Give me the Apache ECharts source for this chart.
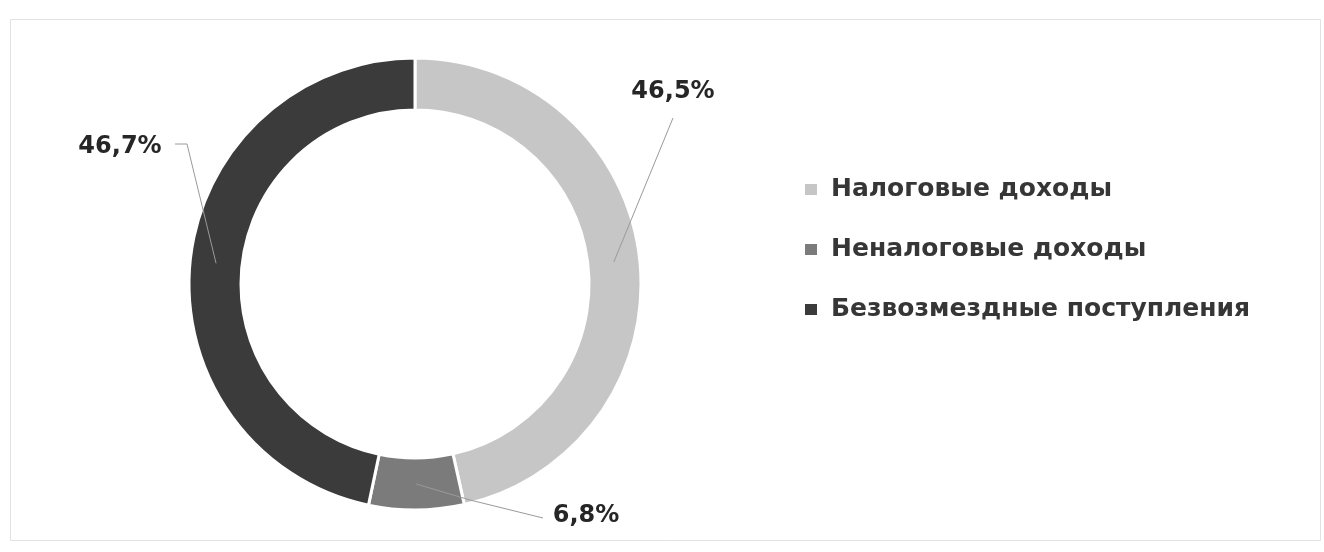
<!DOCTYPE html>
<html>
<head>
<meta charset="utf-8">
<script src="https://cdn.jsdelivr.net/npm/echarts@6/dist/echarts.min.js"></script>
<style>
html,body{margin:0;padding:0;background:#fff;}
#chart{width:1324px;height:552px;}
</style>
</head>
<body>
<div id="chart"></div>
<script>
const categories = ['Налоговые доходы', 'Неналоговые доходы', 'Безвозмездные поступления'];
const values = [46.5, 6.8, 46.7];
const labels = ['46,5%', '6,8%', '46,7%'];
const colors = ['#c6c6c6', '#7b7b7b', '#3b3b3b'];

// label placement (text centre) and elbow points of leader lines
const labelPos = [[673, 92], [586, 516], [120, 147]];
const lineEnd = [[[673, 118], [673, 118]], [[470, 500], [543, 518]], [[187, 144], [175, 144]]];

const CX = 415, CY = 284, R0 = 174, R1 = 226;

const chart = echarts.init(document.getElementById('chart'), null, {renderer: 'canvas'});
const total = values.reduce((a, b) => a + b, 0);
const midAngles = [];
let acc = 0;
values.forEach(v => { midAngles.push((acc + v / 2) / total * 2 * Math.PI); acc += v; });

const labelFont = {fontFamily: 'DejaVu Sans', fontWeight: 'bold', fontSize: 24, color: '#262626'};

chart.setOption({
  backgroundColor: '#ffffff',
  animation: false,
  graphic: [{
    type: 'rect', shape: {x: 10.5, y: 19.5, width: 1310, height: 521},
    style: {fill: 'none', stroke: '#e2e2e2', lineWidth: 1}, silent: true, z: -1
  }],
  legend: {
    orient: 'vertical',
    left: 798, top: 172,
    itemWidth: 14, itemHeight: 13, itemGap: 35,
    icon: 'rect',
    textStyle: {fontFamily: 'DejaVu Sans', fontWeight: 'bold', fontSize: 25, color: '#363636', padding: [0, 0, 0, 8]},
    data: categories
  },
  series: [{
    type: 'pie',
    center: [CX, CY],
    radius: [R0, R1],
    startAngle: 90,
    clockwise: true,
    z: 2,
    itemStyle: {borderColor: '#ffffff', borderWidth: 3},
    label: {show: false},
    labelLine: {show: false},
    emphasis: {disabled: true},
    data: categories.map((c, i) => ({name: c, value: values[i], itemStyle: {color: colors[i]}}))
  }, {
    // transparent overlay carrying the labels so leader lines sit above the ring
    type: 'pie',
    center: [CX, CY],
    radius: [R0, R1],
    startAngle: 90,
    clockwise: true,
    z: 5,
    silent: true,
    itemStyle: {color: 'rgba(0,0,0,0)', borderWidth: 0},
    label: Object.assign({
      show: true,
      position: 'outside',
      formatter: p => labels[p.dataIndex]
    }, labelFont),
    labelLine: {show: true, lineStyle: {color: '#9a9a9a', width: 1}},
    labelLayout: function (params) {
      const i = params.dataIndex;
      const a = midAngles[i];
      const rm = (R0 + R1) / 2;
      const start = [CX + rm * Math.sin(a), CY - rm * Math.cos(a)];
      return {
        x: labelPos[i][0], y: labelPos[i][1],
        align: 'center', verticalAlign: 'middle',
        labelLinePoints: [start].concat(lineEnd[i])
      };
    },
    emphasis: {disabled: true},
    data: categories.map((c, i) => ({name: c, value: values[i]}))
  }]
});
</script>
</body>
</html>
